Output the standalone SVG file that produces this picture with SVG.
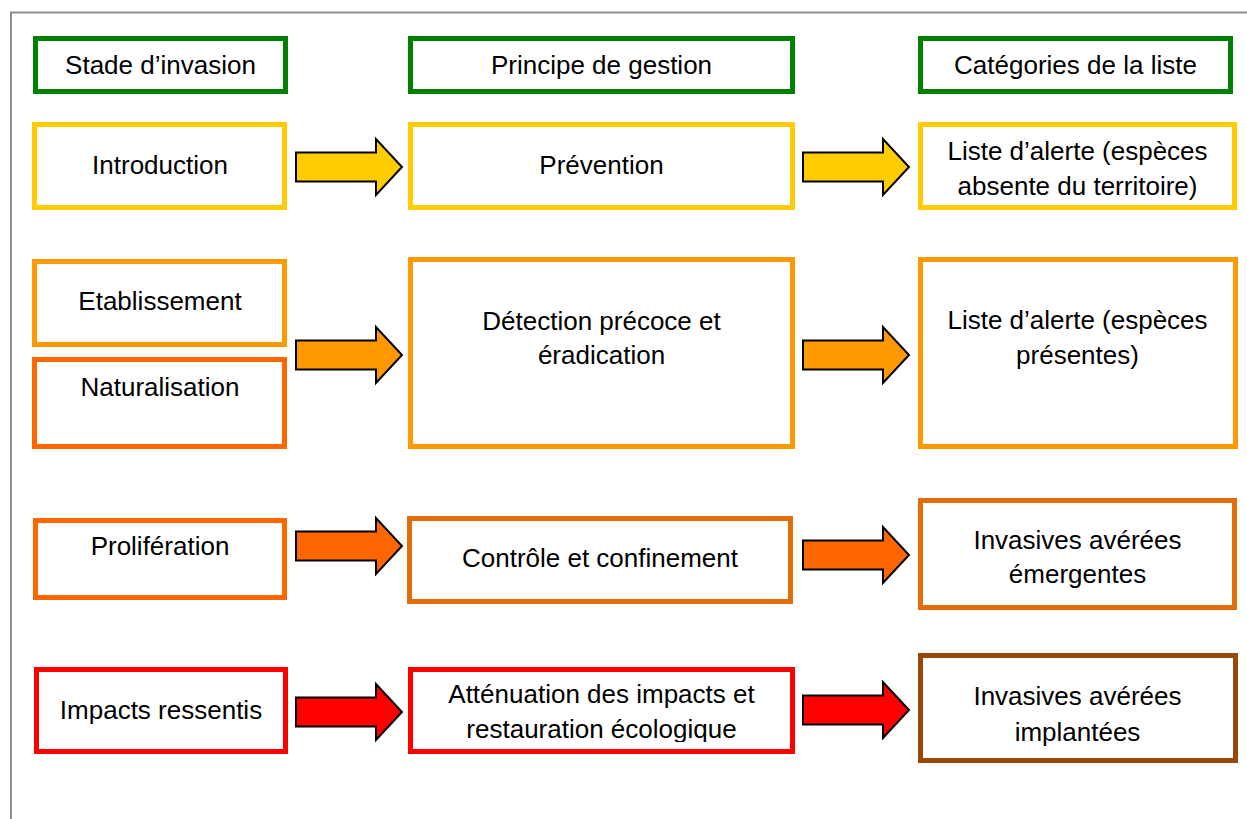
<svg xmlns="http://www.w3.org/2000/svg" width="1247" height="819" viewBox="0 0 1247 819">
<style>
  .box { fill: #ffffff; stroke-width: 5; }
  .hdr { stroke: #008000; }
  .yel { stroke: #FFCC00; }
  .org { stroke: #FF9900; }
  .ord { stroke: #FF6600; }
  .orc { stroke: #E46C0A; }
  .red { stroke: #FF0000; }
  .brn { stroke: #99480A; }
  text { font-family: "Liberation Sans", Arial, sans-serif; font-size: 26px; fill: #000000; text-anchor: middle; }
  .arrow { stroke: #000000; stroke-width: 2; stroke-linejoin: miter; }
</style>
<defs>
  <path id="arr" d="M0,-14.5 H80 V-28 L106,0 L80,28 V14.5 H0 Z"/>
  <clipPath id="clipAtt">
    <rect x="413" y="672" width="377" height="70"/>
  </clipPath>
</defs>
<rect width="1247" height="819" fill="#ffffff"/>
<path d="M11,819 V12.5 H1247" fill="none" stroke="#909090" stroke-width="2"/>

<g id="connectors">
  <use href="#arr" class="arrow" fill="#FFCC00" transform="translate(296,167)"/>
  <use href="#arr" class="arrow" fill="#FFCC00" transform="translate(803,167)"/>
  <use href="#arr" class="arrow" fill="#FF9900" transform="translate(296,355)"/>
  <use href="#arr" class="arrow" fill="#FF9900" transform="translate(803,355)"/>
  <use href="#arr" class="arrow" fill="#FF6600" transform="translate(296,546)"/>
  <use href="#arr" class="arrow" fill="#FF6600" transform="translate(803,555)"/>
  <use href="#arr" class="arrow" fill="#FF0000" transform="translate(296,712)"/>
  <use href="#arr" class="arrow" fill="#FF0000" transform="translate(803,710)"/>
</g>

<g id="h-stade">
  <rect class="box hdr" x="35.5" y="38.5" width="250" height="53"/>
  <text x="160.5" y="74">Stade d’invasion</text>
</g>
<g id="h-principe">
  <rect class="box hdr" x="410.5" y="38.5" width="382" height="53"/>
  <text x="601.5" y="74">Principe de gestion</text>
</g>
<g id="h-categories">
  <rect class="box hdr" x="920.5" y="38.5" width="310" height="53"/>
  <text x="1075.5" y="74">Catégories de la liste</text>
</g>

<g id="introduction">
  <rect class="box yel" x="34.5" y="124.5" width="250" height="83"/>
  <text x="160" y="174">Introduction</text>
</g>
<g id="prevention">
  <rect class="box yel" x="410.5" y="124.5" width="382" height="83"/>
  <text x="601.5" y="174">Prévention</text>
</g>
<g id="liste-absente">
  <rect class="box yel" x="920.5" y="124.5" width="314" height="83"/>
  <text x="1077.5" y="160">Liste d’alerte (espèces</text>
  <text x="1077.5" y="195">absente du territoire)</text>
</g>

<g id="etablissement">
  <rect class="box org" x="34.5" y="261.5" width="250" height="83"/>
  <text x="160" y="310">Etablissement</text>
</g>
<g id="naturalisation">
  <rect class="box ord" x="34.5" y="359.5" width="250" height="87"/>
  <text x="160" y="396">Naturalisation</text>
</g>
<g id="detection">
  <rect class="box org" x="410.5" y="259.5" width="382" height="187"/>
  <text x="601.5" y="330">Détection précoce et</text>
  <text x="601.5" y="364">éradication</text>
</g>
<g id="liste-presentes">
  <rect class="box org" x="920.5" y="259.5" width="315" height="187"/>
  <text x="1077.5" y="329">Liste d’alerte (espèces</text>
  <text x="1077.5" y="364">présentes)</text>
</g>

<g id="proliferation">
  <rect class="box ord" x="35.5" y="520.5" width="249" height="77"/>
  <text x="160" y="555">Prolifération</text>
</g>
<g id="controle">
  <rect class="box orc" x="409.5" y="518.5" width="381" height="83"/>
  <text x="600" y="567">Contrôle et confinement</text>
</g>
<g id="invasives-emergentes">
  <rect class="box orc" x="920.5" y="500.5" width="314" height="107"/>
  <text x="1077.5" y="549">Invasives avérées</text>
  <text x="1077.5" y="583">émergentes</text>
</g>

<g id="impacts">
  <rect class="box red" x="36.5" y="669.5" width="249" height="82"/>
  <text x="161" y="719">Impacts ressentis</text>
</g>
<g id="attenuation">
  <rect class="box red" x="410.5" y="669.5" width="382" height="82"/>
  <g clip-path="url(#clipAtt)">
    <text x="601.5" y="703">Atténuation des impacts et</text>
    <text x="601.5" y="738">restauration écologique</text>
  </g>
</g>
<g id="invasives-implantees">
  <rect class="box brn" x="920.5" y="655.5" width="315" height="105"/>
  <text x="1077.5" y="705">Invasives avérées</text>
  <text x="1077.5" y="741">implantées</text>
</g>
</svg>
